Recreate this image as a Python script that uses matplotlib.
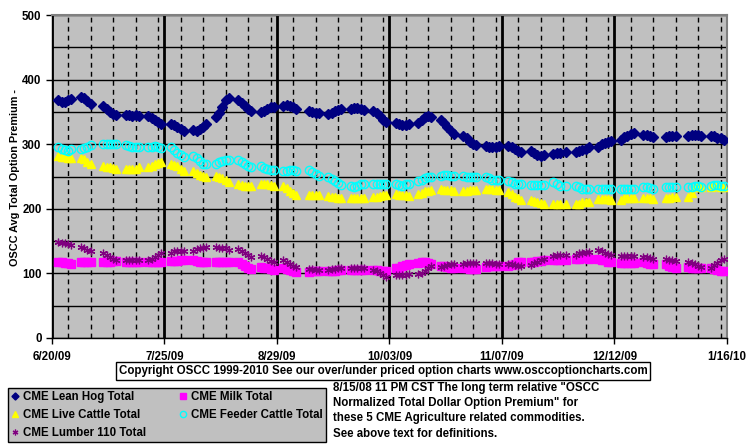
import matplotlib
matplotlib.use("Agg")
import matplotlib.pyplot as plt
import matplotlib.dates as mdates
from matplotlib.ticker import MultipleLocator, FixedLocator
import pandas as pd

plt.rcParams['font.family'] = ['Liberation Sans', 'DejaVu Sans']
plt.rcParams['font.weight'] = 'bold'

# ---------------- data (weekly groups of trading-day values) ----------------
start_date = "2009-06-22"
end_date = "2010-01-15"
holidays = ["2009-07-03", "2009-09-07", "2009-11-26", "2009-12-25", "2010-01-01"]

lean_hog = [
    368, 366, 366, 368, 370,   373, 372, 367, 362,        359, 354, 350, 347, 345,
    345, 345, 344, 345, 343,   343, 340, 337, 334, 332,   332, 329, 326, 323, 321,
    322, 321, 323, 327, 332,   342, 348, 358, 368, 371,   368, 364, 359, 354, 352,
    350, 352, 355, 357, 358,   359, 360, 359, 357, 355,   352, 350, 348, 349,
    347, 349, 351, 353, 354,   355, 356, 356, 355, 353,   351, 348, 343, 338, 334,
    333, 331, 330, 330, 331,   333, 337, 342, 344, 342,   337, 333, 327, 321, 316,
    313, 309, 304, 301, 298,   297, 295, 295, 296, 297,   297, 295, 293, 290, 288,
    289, 286, 284, 282, 283,   285, 286, 287, 288,        288, 290, 291, 293, 295,
    296, 300, 302, 304, 305,   306, 311, 313, 316, 318,   315, 314, 312, 311,
    311, 312, 313, 313,        313, 314, 315, 314, 313,   313, 312, 310, 309, 306,
]
milk = [
    118, 117, 116, 116, 115,   117, 117, 118, 118,        118, 118, 118, 119, 119,
    117, 117, 117, 117, 117,   117, 117, 117, 117, 117,   119, 119, 119, 120, 121,
    121, 119, 118, 117, 117,   118, 118, 118, 118, 117,   117, 115, 112, 109, 107,
    110, 109, 108, 107, 106,   109, 107, 105, 103, 102,   102, 103, 104, 104,
    103, 104, 104, 105, 105,   106, 106, 106, 106, 106,   106, 105, 104, 103, 103,
    108, 109, 111, 113, 114,   116, 117, 117, 116, 115,   112, 111, 110, 109, 109,
    108, 108, 107, 107, 107,   110, 111, 112, 112, 112,   112, 113, 115, 117, 118,
    117, 118, 119, 119, 120,   120, 120, 120, 120,        122, 123, 124, 124, 123,
    122, 121, 120, 118, 117,   116, 116, 116, 116, 116,   118, 116, 115, 114,
    114, 112, 110, 109,        110, 109, 109, 108, 108,   109, 107, 106, 104, 103,
]
live_cattle = [
    281, 280, 280, 279, 278,   278, 277, 273, 269,        267, 265, 264, 263, 262,
    262, 261, 262, 262, 264,   264, 267, 270, 271, 272,   270, 268, 266, 262, 259,
    258, 255, 253, 251, 250,   251, 249, 247, 245, 242,   238, 237, 236, 235, 235,
    239, 238, 238, 237, 236,   235, 232, 228, 224, 221,   221, 221, 221, 221,
    220, 219, 218, 217, 217,   216, 216, 216, 217, 217,   218, 219, 220, 221, 221,
    223, 222, 222, 221, 220,   223, 225, 227, 228, 229,   230, 229, 229, 229, 228,
    228, 228, 229, 229, 229,   230, 230, 230, 229, 229,   226, 223, 219, 216, 213,
    213, 212, 210, 209, 207,   207, 207, 207, 207,        207, 208, 210, 211, 211,
    215, 215, 215, 215, 214,   214, 216, 217, 217, 216,   217, 217, 216, 215,
    216, 217, 219, 219,        218, 225, 233, 234, 234,   234, 235, 235, 234, 233,
]
feeder_cattle = [
    296, 293, 291, 290, 292,   292, 294, 296, 298,        300, 301, 301, 300, 300,
    299, 297, 296, 295, 295,   295, 296, 297, 296, 294,   295, 291, 287, 283, 280,
    282, 278, 274, 270, 269,   270, 272, 274, 275, 276,   276, 273, 270, 267, 265,
    266, 263, 261, 260, 260,   259, 259, 260, 260, 259,   260, 257, 254, 251,
    249, 246, 243, 240, 237,   235, 233, 235, 238, 239,   239, 238, 238, 239, 239,
    238, 237, 236, 238, 239,   243, 245, 247, 249, 250,   251, 252, 252, 251, 251,
    251, 250, 249, 249, 250,   249, 247, 245, 244, 244,   243, 241, 238, 238, 239,
    237, 237, 237, 237, 237,   241, 238, 236, 235,        235, 233, 231, 231, 231,
    231, 231, 231, 231, 231,   231, 231, 231, 231, 231,   234, 233, 232, 231,
    234, 234, 234, 233,        233, 234, 235, 235, 234,   236, 237, 237, 236, 235,
]
lumber = [
    148, 147, 147, 146, 144,   141, 139, 136, 134,        131, 129, 126, 123, 121,
    120, 120, 121, 121, 120,   121, 123, 126, 128, 131,   132, 134, 135, 135, 134,
    135, 137, 139, 140, 141,   141, 140, 140, 139, 136,   138, 135, 131, 128, 126,
    127, 125, 122, 119, 117,   120, 118, 115, 112, 110,   107, 107, 106, 106,
    106, 107, 107, 108, 108,   108, 109, 109, 109, 108,   106, 103, 100, 97, 95,
    98, 97, 97, 98, 99,        99, 101, 104, 108, 111,   110, 112, 113, 114, 114,
    115, 116, 116, 116, 116,   116, 116, 116, 115, 115,   114, 114, 113, 112, 111,
    113, 116, 118, 121, 123,   127, 128, 128, 128,        129, 131, 132, 133, 133,
    136, 134, 132, 130, 128,   127, 127, 127, 127, 127,   126, 126, 124, 123,
    123, 121, 120, 119,        118, 116, 114, 112, 110,   109, 113, 116, 120, 123,
]

series_names = ["CME Lean Hog Total", "CME Milk Total", "CME Live Cattle Total",
                "CME Feeder Cattle Total", "CME Lumber 110 Total"]

x_ticks = ["2009-06-20", "2009-07-25", "2009-08-29", "2009-10-03",
           "2009-11-07", "2009-12-12", "2010-01-16"]
x_tick_labels = ["6/20/09", "7/25/09", "8/29/09", "10/03/09", "11/07/09", "12/12/09", "1/16/10"]
y_ticks = [0, 100, 200, 300, 400, 500]

y_label = "OSCC Avg Total Option Premium -"
copyright_text = "Copyright OSCC 1999-2010 See our over/under priced option charts www.osccoptioncharts.com"
note_lines = ['8/15/08 11 PM CST The long term relative "OSCC',
              'Normalized Total Dollar Option Premium" for',
              'these 5 CME Agriculture related commodities.',
              'See above text for definitions.']

FS = 8.3

# ---------------- figure ----------------
W, H = 755, 446
fig = plt.figure(figsize=(W / 100, H / 100), dpi=100)
fig.patch.set_facecolor("white")
L, R, T, B = 52, 727, 15, 338
ax = fig.add_axes([L / W, 1 - B / H, (R - L) / W, (B - T) / H])
ax.set_facecolor("#C0C0C0")

dates = pd.bdate_range(start_date, end_date)
dates = dates[~dates.isin(pd.to_datetime(holidays))]
assert len(dates) == len(lean_hog) == len(milk) == len(live_cattle) == len(feeder_cattle) == len(lumber)

styles = [
    dict(marker="D", color="#000080", ms=4.8, mec="#000080"),
    dict(marker="s", color="#FF00FF", ms=5.2, mec="#FF00FF"),
    dict(marker="^", color="#FFFF00", ms=6.0, mec="#FFFF00"),
    dict(marker="o", color="#00FFFF", ms=6.0, mfc="none", mec="#00FFFF", mew=1.0),
    dict(marker=(6, 2, 0), color="#800080", ms=5.5, mec="#800080", mew=0.9),
]
handles = []
for vals, name, st in zip([lean_hog, milk, live_cattle, feeder_cattle, lumber], series_names, styles):
    h, = ax.plot(dates, vals, linestyle="none", label=name, zorder=3, **st)
    handles.append(h)

xt = pd.to_datetime(x_ticks)
ax.set_xlim(xt[0], xt[-1])
ax.set_ylim(0, 500)

ax.xaxis.set_major_locator(FixedLocator(mdates.date2num(xt)))
ax.xaxis.set_minor_locator(MultipleLocator(7))
ax.set_xticklabels(x_tick_labels)
ax.set_yticks(y_ticks)
ax.yaxis.set_minor_locator(MultipleLocator(50))

ax.grid(axis="y", which="both", color="black", lw=1.0, zorder=1)
ax.grid(axis="x", which="minor", color="black", lw=1.0, ls=(0, (3.5, 3)), zorder=1)
ax.grid(axis="x", which="major", color="black", lw=2.0, zorder=1.5)
ax.set_axisbelow(True)

ax.tick_params(axis="both", which="major", direction="out", length=4, width=1,
               color="black", labelsize=FS)
ax.tick_params(axis="y", which="major", pad=3.5)
ax.tick_params(axis="x", which="major", pad=5)
ax.tick_params(axis="both", which="minor", length=0)
for s in ["left", "bottom"]:
    ax.spines[s].set_color("black")
    ax.spines[s].set_linewidth(1)
for s in ["top", "right"]:
    ax.spines[s].set_color("#808080")
    ax.spines[s].set_linewidth(1.5)

fig.text(15 / W, 1 - 178 / H, y_label, rotation=90, ha="center", va="center",
         fontsize=7.8, fontweight="bold")

fig.text(383 / W, 1 - 371 / H, copyright_text, ha="center", va="center", fontsize=FS,
         fontweight="bold",
         bbox=dict(boxstyle="square,pad=0.22", fc="white", ec="black", lw=1))

for i, line in enumerate(note_lines):
    fig.text(333 / W, 1 - (388 + 15.2 * i) / H, line, ha="left", va="center",
             fontsize=FS, fontweight="bold")

order = [0, 2, 4, 1, 3]
leg = fig.legend([handles[i] for i in order], [series_names[i] for i in order],
                 ncol=2, loc="upper left", bbox_to_anchor=(8 / W, 1 - 388 / H),
                 borderaxespad=0, frameon=True, fancybox=False, framealpha=1,
                 facecolor="#C0C0C0", edgecolor="black", fontsize=FS,
                 handlelength=0.7, handletextpad=0.35, columnspacing=2.8,
                 labelspacing=0.52, borderpad=0.28, markerscale=0.75)
leg.get_frame().set_linewidth(1)
for t in leg.get_texts():
    t.set_fontweight("bold")

fig.savefig("out.png", dpi=100)
